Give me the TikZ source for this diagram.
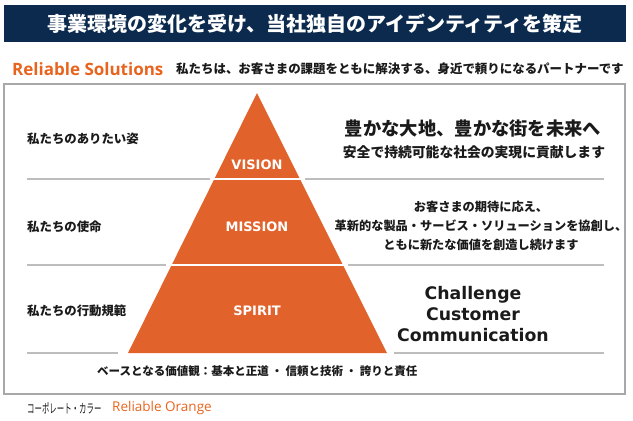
\documentclass[tikz,border=0pt]{standalone}
\usepackage{fontspec}
\newfontfamily\jpfont{Noto Sans CJK JP}
\newfontfamily\vfont{DejaVu Sans}
\newfontfamily\ofont{Open Sans}
\definecolor{navy}{HTML}{0C2A4E}
\definecolor{rorange}{HTML}{E2622B}
\definecolor{brandorange}{HTML}{E8641E}
\definecolor{ink}{HTML}{1A1A1A}
\definecolor{rulegray}{HTML}{BDBDBD}
\definecolor{boxgray}{HTML}{A8A8A8}
\tikzset{
  every node/.style={inner sep=0pt, text=ink},
  lefttag/.style={anchor=west, font=\jpfont\bfseries\fontsize{12.4}{14}\selectfont},
  bandtag/.style={text=white, font=\vfont\bfseries\fontsize{13}{15}\selectfont},
  rulegrey/.style={draw=rulegray, line width=1.2pt},
  gapline/.style={draw=white, line width=2.2pt}
}
\begin{document}
\begin{tikzpicture}[x=1pt, y=-1pt]
\useasboundingbox (0,0) rectangle (633,421);
\fill[navy] (4,5) rectangle (626,42);
\node[text=white, font=\jpfont\bfseries\fontsize{20}{24}\selectfont] (title) at (315,23.5) {事業環境の変化を受け、当社独自のアイデンティティを策定};

\node[anchor=west, text=brandorange, font=\ofont\bfseries\fontsize{17}{20}\selectfont] (rs) at (12,69) {Reliable Solutions};
\node[anchor=west, font=\jpfont\bfseries\fontsize{12.45}{14}\selectfont] (partner) at (176,69) {私たちは、お客さまの課題をともに解決する、身近で頼りになるパートナーです};

\draw[draw=boxgray, line width=1.5pt] (4,84) rectangle (625,394);

\fill[rorange] (257,93) -- (387,353) -- (128,353) -- cycle;
\draw[gapline] (200,179) -- (315,179);
\draw[gapline] (160,265) -- (355,265);

\draw[rulegrey] (27,179) -- (210,179);
\draw[rulegrey] (305,179) -- (604,179);
\draw[rulegrey] (27,265) -- (166,265);
\draw[rulegrey] (348,265) -- (604,265);
\draw[rulegrey] (27,353) -- (118,353);
\draw[rulegrey] (394,353) -- (604,353);

\node[lefttag] (ql) at (27,139) {私たちのありたい姿};
\node[lefttag] (ml) at (27,227) {私たちの使命};
\node[lefttag] (sl) at (27,311) {私たちの行動規範};

\node[bandtag] (vision) at (257,165) {VISION};
\node[bandtag] (mission) at (257,227) {MISSION};
\node[bandtag] (spirit) at (257,311) {SPIRIT};

\node[font=\jpfont\bfseries\fontsize{18.3}{22}\selectfont] (vhead) at (473,129) {豊かな大地、豊かな街を未来へ};
\node[font=\jpfont\bfseries\fontsize{13.8}{16}\selectfont] (vsub) at (474,152) {安全で持続可能な社会の実現に貢献します};

\node[align=center, font=\jpfont\bfseries\fontsize{12.2}{19}\selectfont] (mtext) at (481,226) {お客さまの期待に応え、\\革新的な製品・サービス・ソリューションを協創し、\\ともに新たな価値を創造し続けます};

\node[align=center, font=\vfont\bfseries\fontsize{17.3}{21}\selectfont] (stext) at (473,314) {Challenge\\Customer\\Communication};

\node[anchor=west, font=\jpfont\bfseries\fontsize{11.5}{14}\selectfont] (values) at (97,371) {ベースとなる価値観：基本と正道 ・ 信頼と技術 ・ 誇りと責任};

\node[anchor=west, font=\jpfont\fontsize{12.8}{15}\selectfont] (cc) at (27,408) {\scalebox{0.58}[1]{コーポレート・カラー}};
\node[anchor=west, text=brandorange, font=\ofont\fontsize{13.5}{16}\selectfont] (ro) at (112,408) {Reliable Orange};
\end{tikzpicture}
\end{document}
